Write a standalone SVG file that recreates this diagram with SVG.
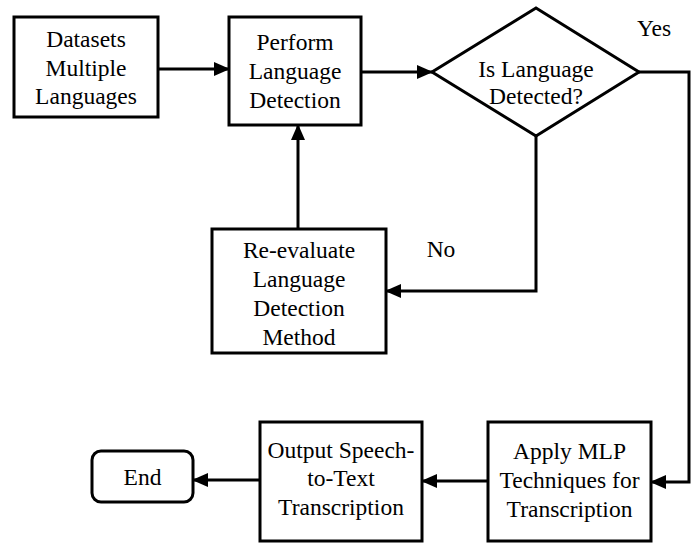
<svg xmlns="http://www.w3.org/2000/svg" width="697" height="543" viewBox="0 0 697 543" font-family="Liberation Serif, Times New Roman, serif" font-size="23.5">
<defs>
<style>
.box{fill:#fff;stroke:#000;stroke-width:3}
.ln{fill:none;stroke:#000;stroke-width:3}
.t{font-family:"Liberation Serif",serif;font-size:23.5px;fill:#000;text-anchor:middle}
</style>
<marker id="ah" markerUnits="userSpaceOnUse" markerWidth="16" markerHeight="14" refX="15" refY="7" orient="auto">
<path d="M0,0 L16,7 L0,14 z" fill="#000"/>
</marker>
</defs>
<rect width="697" height="543" fill="#fff"/>
<g id="connectors">
<path class="ln" d="M158,69 L229,69" marker-end="url(#ah)"/>
<path class="ln" d="M361,72 L432,72" marker-end="url(#ah)"/>
<path class="ln" d="M639,72 L689,72 L689,482 L651,482" marker-end="url(#ah)"/>
<path class="ln" d="M536,136 L536,291 L386,291" marker-end="url(#ah)"/>
<path class="ln" d="M298,229 L298,125" marker-end="url(#ah)"/>
<path class="ln" d="M488,481 L422,481" marker-end="url(#ah)"/>
<path class="ln" d="M260,480 L193,480" marker-end="url(#ah)"/>
<text class="t" x="654" y="36" font-family="Liberation Serif">Yes</text>
<text class="t" x="441" y="257" font-family="Liberation Serif">No</text>
</g>
<g id="datasets">
<rect class="box" x="14" y="17" width="144" height="100"/>
<text class="t" x="86" y="47">Datasets</text>
<text class="t" x="86" y="76">Multiple</text>
<text class="t" x="86" y="104">Languages</text>
</g>
<g id="perform">
<rect class="box" x="229" y="17" width="132" height="108"/>
<text class="t" x="295" y="50">Perform</text>
<text class="t" x="295" y="79">Language</text>
<text class="t" x="295" y="108">Detection</text>
</g>
<g id="decision">
<polygon class="box" points="536,8 639,72 536,136 432,72"/>
<text class="t" x="536" y="77">Is Language</text>
<text class="t" x="536" y="104">Detected?</text>
</g>
<g id="reevaluate">
<rect class="box" x="212" y="229" width="174" height="124"/>
<text class="t" x="299" y="258">Re-evaluate</text>
<text class="t" x="299" y="287">Language</text>
<text class="t" x="299" y="316">Detection</text>
<text class="t" x="299" y="345">Method</text>
</g>
<g id="apply">
<rect class="box" x="488" y="422" width="163" height="119"/>
<text class="t" x="569.5" y="459">Apply MLP</text>
<text class="t" x="569.5" y="488">Techniques for</text>
<text class="t" x="569.5" y="517">Transcription</text>
</g>
<g id="output">
<rect class="box" x="260" y="422" width="162" height="119"/>
<text class="t" x="341" y="458">Output Speech-</text>
<text class="t" x="341" y="486">to-Text</text>
<text class="t" x="341" y="515">Transcription</text>
</g>
<g id="end">
<rect class="box" x="92" y="451" width="101" height="51" rx="9"/>
<text class="t" x="142.5" y="485">End</text>
</g>
</svg>
